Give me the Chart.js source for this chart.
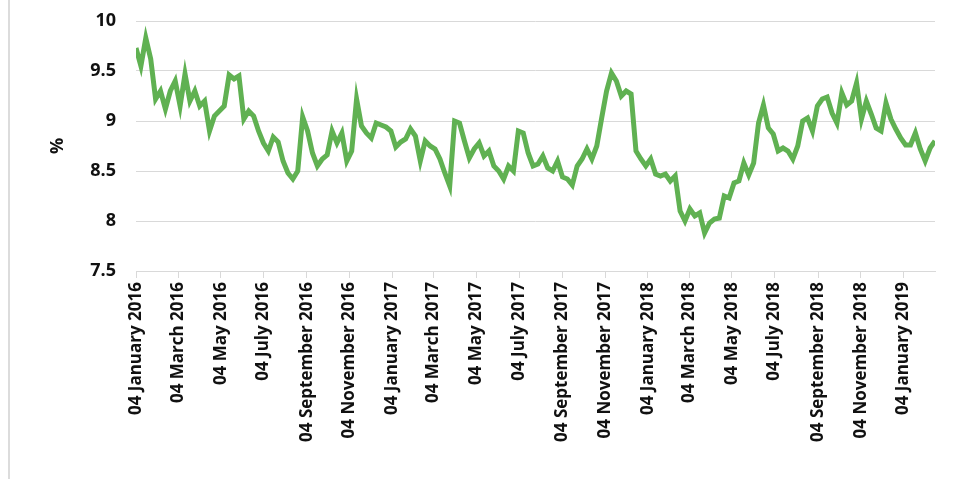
<!DOCTYPE html>
<html>
<head>
<meta charset="utf-8">
<script src="https://cdn.jsdelivr.net/npm/chart.js@4/dist/chart.umd.min.js"></script>
<style>
    html, body { margin: 0; padding: 0; background: #fff; }
    #wrap { position: relative; width: 953px; height: 479px; }
    #edge { position: absolute; left: 8px; top: 0; width: 2px; height: 479px; background: #dcdcdc; }
</style>
</head>
<body>
<div id="wrap">
    <div id="edge"></div>
    <canvas id="rate-chart" width="953" height="479"></canvas>
</div>
<script>
// weekly observations, first week starting 04 January 2016
const startDate = '2016-01-04';
const stepDays = 7;
const rateValues = [
    9.73, 9.55, 9.83, 9.62, 9.22, 9.30, 9.12, 9.30, 9.40, 9.15,
    9.47, 9.20, 9.30, 9.15, 9.20, 8.90, 9.05, 9.10, 9.15, 9.46,
    9.42, 9.45, 9.02, 9.10, 9.05, 8.90, 8.78, 8.70, 8.84, 8.79,
    8.60, 8.48, 8.42, 8.50, 9.04, 8.90, 8.68, 8.55, 8.62, 8.66,
    8.90, 8.78, 8.88, 8.60, 8.70, 9.22, 8.95, 8.88, 8.83, 8.98,
    8.96, 8.94, 8.90, 8.74, 8.79, 8.82, 8.92, 8.85, 8.60, 8.80,
    8.75, 8.72, 8.62, 8.48, 8.35, 9.00, 8.98, 8.80, 8.63, 8.72,
    8.78, 8.65, 8.70, 8.55, 8.50, 8.42, 8.55, 8.50, 8.90, 8.88,
    8.68, 8.55, 8.57, 8.65, 8.53, 8.50, 8.60, 8.44, 8.42, 8.36,
    8.55, 8.62, 8.72, 8.62, 8.75, 9.03, 9.30, 9.48, 9.40, 9.25,
    9.30, 9.27, 8.70, 8.62, 8.55, 8.62, 8.47, 8.45, 8.47, 8.40,
    8.45, 8.10, 8.00, 8.12, 8.05, 8.08, 7.88, 7.98, 8.02, 8.03,
    8.25, 8.23, 8.38, 8.40, 8.58, 8.46, 8.58, 8.98, 9.16, 8.93,
    8.87, 8.70, 8.73, 8.70, 8.62, 8.75, 9.00, 9.03, 8.90, 9.15,
    9.22, 9.24, 9.08, 8.98, 9.28, 9.16, 9.20, 9.38, 9.02, 9.20,
    9.07, 8.93, 8.90, 9.18, 9.02, 8.92, 8.83, 8.76, 8.76, 8.88,
    8.72, 8.60, 8.73, 8.80
];

const tickDates = [
    '2016-01-04', '2016-03-04', '2016-05-04', '2016-07-04', '2016-09-04', '2016-11-04',
    '2017-01-04', '2017-03-04', '2017-05-04', '2017-07-04', '2017-09-04', '2017-11-04',
    '2018-01-04', '2018-03-04', '2018-05-04', '2018-07-04', '2018-09-04', '2018-11-04',
    '2019-01-04'
];
const tickLabels = [
    '04 January 2016', '04 March 2016', '04 May 2016', '04 July 2016', '04 September 2016', '04 November 2016',
    '04 January 2017', '04 March 2017', '04 May 2017', '04 July 2017', '04 September 2017', '04 November 2017',
    '04 January 2018', '04 March 2018', '04 May 2018', '04 July 2018', '04 September 2018', '04 November 2018',
    '04 January 2019'
];

const yTicks = [7.5, 8, 8.5, 9, 9.5, 10];

const DAY = 86400000;
const t0 = Date.parse(startDate);
const tickDays = tickDates.map(d => (Date.parse(d) - t0) / DAY);
const points = rateValues.map((v, i) => ({ x: i * stepDays, y: v }));

new Chart(document.getElementById('rate-chart'), {
    type: 'line',
    data: {
        datasets: [{
            data: points,
            borderColor: '#60B152',
            borderWidth: 5,
            pointRadius: 0,
            tension: 0,
            fill: false
        }]
    },
    options: {
        responsive: false,
        animation: false,
        layout: { padding: { left: 10, right: 18, top: 21, bottom: 0 } },
        plugins: {
            legend: { display: false },
            tooltip: { enabled: false }
        },
        scales: {
            x: {
                type: 'linear',
                min: 0,
                max: (rateValues.length - 1) * stepDays,
                afterBuildTicks: scale => {
                    scale.ticks = tickDays.map(v => ({ value: v }));
                },
                afterFit: scale => {
                    scale.height = 479 - 271;
                    scale.paddingLeft = 0;
                    scale.paddingRight = 0;
                },
                grid: { drawOnChartArea: false, color: '#d9d9d9', tickLength: 7 },
                border: { color: '#d9d9d9', width: 1 },
                ticks: {
                    autoSkip: false,
                    minRotation: 90,
                    maxRotation: 90,
                    padding: 4,
                    color: '#111',
                    font: { family: 'Open Sans', weight: 'bold', size: 17 },
                    callback: (value, index) => tickLabels[index]
                }
            },
            y: {
                min: 7.5,
                max: 10,
                afterBuildTicks: scale => {
                    scale.ticks = yTicks.map(v => ({ value: v }));
                },
                afterFit: scale => {
                    scale.width = 136 - 10;
                    scale.paddingTop = 0;
                    scale.paddingBottom = 0;
                },
                grid: { color: '#d9d9d9', drawTicks: false },
                border: { display: false },
                ticks: {
                    padding: 20,
                    color: '#111',
                    font: { family: 'Open Sans', weight: 'bold', size: 18 },
                    callback: value => String(value)
                },
                title: {
                    display: true,
                    text: '%',
                    color: '#111',
                    font: { family: 'Open Sans', weight: 'bold', size: 18 },
                    padding: { top: 37 }
                }
            }
        }
    }
});
</script>
</body>
</html>
